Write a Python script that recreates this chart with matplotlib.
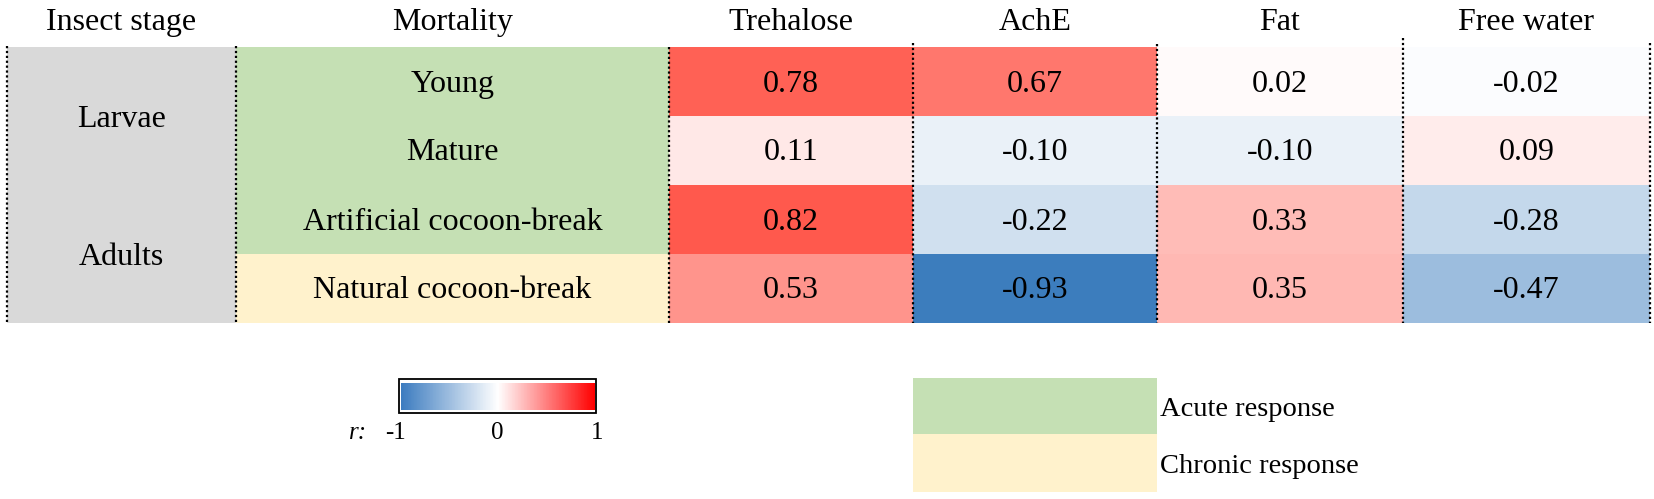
import numpy as np
import matplotlib
matplotlib.use("Agg")
import matplotlib.pyplot as plt
from matplotlib.patches import Rectangle
from matplotlib.colors import LinearSegmentedColormap, TwoSlopeNorm, Normalize
from matplotlib.cm import ScalarMappable

# data
headers = ["Insect stage", "Mortality", "Trehalose", "AchE", "Fat", "Free water"]
stages = ["Larvae", "Adults"]
mortality = ["Young", "Mature", "Artificial cocoon-break", "Natural cocoon-break"]
response = ["acute", "acute", "acute", "chronic"]
values = np.array([
    [0.78, 0.67, 0.02, -0.02],
    [0.11, -0.10, -0.10, 0.09],
    [0.82, -0.22, 0.33, -0.28],
    [0.53, -0.93, 0.35, -0.47],
])
legend_labels = ["Acute response", "Chronic response"]
cbar_ticks = [-1, 0, 1]

# layout (pixels)
W, H = 1654, 499
col_edges = [7, 236, 669, 913, 1157, 1403, 1650]
row_edges = [47, 116, 185, 254, 323]
line_tops = [46, 46, 47, 43, 44, 38, 43]

gray = "#d9d9d9"
green = "#c5e0b4"
yellow = "#fff2cc"
resp_color = {"acute": green, "chronic": yellow}

plt.rcParams["font.family"] = ["Liberation Serif", "DejaVu Serif"]

fig = plt.figure(figsize=(W / 100, H / 100), dpi=100)
ax = fig.add_axes([0, 0, 1, 1])
ax.set_xlim(0, W)
ax.set_ylim(H, 0)
ax.axis("off")

fs = 23

# header
for i, h in enumerate(headers):
    cx = (col_edges[i] + col_edges[i + 1]) / 2
    ax.text(cx, 30, h, ha="center", va="baseline", fontsize=fs)

# insect stage column
ax.add_patch(Rectangle((col_edges[0], row_edges[0]), col_edges[1] - col_edges[0],
                       row_edges[-1] - row_edges[0], color=gray, lw=0, zorder=1))
for k, s in enumerate(stages):
    cy = row_edges[2 * k + 1]
    ax.text((col_edges[0] + col_edges[1]) / 2, cy + 11, s, ha="center",
            va="baseline", fontsize=fs, zorder=5)

# mortality column
for r, m in enumerate(mortality):
    ax.add_patch(Rectangle((col_edges[1], row_edges[r]), col_edges[2] - col_edges[1],
                           row_edges[r + 1] - row_edges[r],
                           color=resp_color[response[r]], lw=0, zorder=1))
    cy = (row_edges[r] + row_edges[r + 1]) / 2
    ax.text((col_edges[1] + col_edges[2]) / 2, cy + 10, m, ha="center",
            va="baseline", fontsize=fs, zorder=5)

# heatmap cells
cell_cmap = LinearSegmentedColormap.from_list("cells", ["#3c7dbd", "#ffffff", "#ff594d"])
norm = TwoSlopeNorm(vmin=values.min(), vcenter=0, vmax=values.max())
ax.pcolormesh(col_edges[2:], row_edges, values, cmap=cell_cmap, norm=norm, zorder=1)
for r in range(values.shape[0]):
    for c in range(values.shape[1]):
        cx = (col_edges[c + 2] + col_edges[c + 3]) / 2
        cy = (row_edges[r] + row_edges[r + 1]) / 2
        ax.text(cx, cy + 10, f"{values[r, c]:.2f}", ha="center", va="baseline",
                fontsize=fs, zorder=5)

# dotted column lines
for x, top in zip(col_edges, line_tops):
    ax.plot([x, x], [top, row_edges[-1]], color="black", lw=1.6,
            linestyle=(0, (1, 1.2)), zorder=4)

# colour bar
cbar_cmap = LinearSegmentedColormap.from_list("cbar", ["#3b7bbf", "#ffffff", "#ff0000"])
gx0, gx1, gy0, gy1 = 400.7, 595, 383.3, 410
cax = fig.add_axes([gx0 / W, 1 - gy1 / H, (gx1 - gx0) / W, (gy1 - gy0) / H])
cb = fig.colorbar(ScalarMappable(norm=Normalize(-1, 1), cmap=cbar_cmap), cax=cax,
                  orientation="horizontal")
cb.outline.set_visible(False)
cax.set_xticks([])
ax.add_patch(Rectangle((399.3, 379.3), 196.7, 34, fill=False, ec="black", lw=1.3, zorder=6))
tick_x = {-1: 396, 0: 497, 1: 597}
for t in cbar_ticks:
    ax.text(tick_x[t], 439, str(t), ha="center", va="baseline", fontsize=18)
ax.text(358, 439, "r:", ha="center", va="baseline", fontsize=18, style="italic")

# response legend
lx0, lx1 = col_edges[3], col_edges[4]
leg_rows = [(378, 434), (434, 492)]
for (y0, y1), lab, colr in zip(leg_rows, legend_labels, [green, yellow]):
    ax.add_patch(Rectangle((lx0, y0), lx1 - lx0, y1 - y0, color=colr, lw=0))
    ax.text(lx1 + 3, (y0 + y1) / 2 + 10, lab, ha="left", va="baseline", fontsize=20.5)

fig.savefig("out.png", dpi=100)
